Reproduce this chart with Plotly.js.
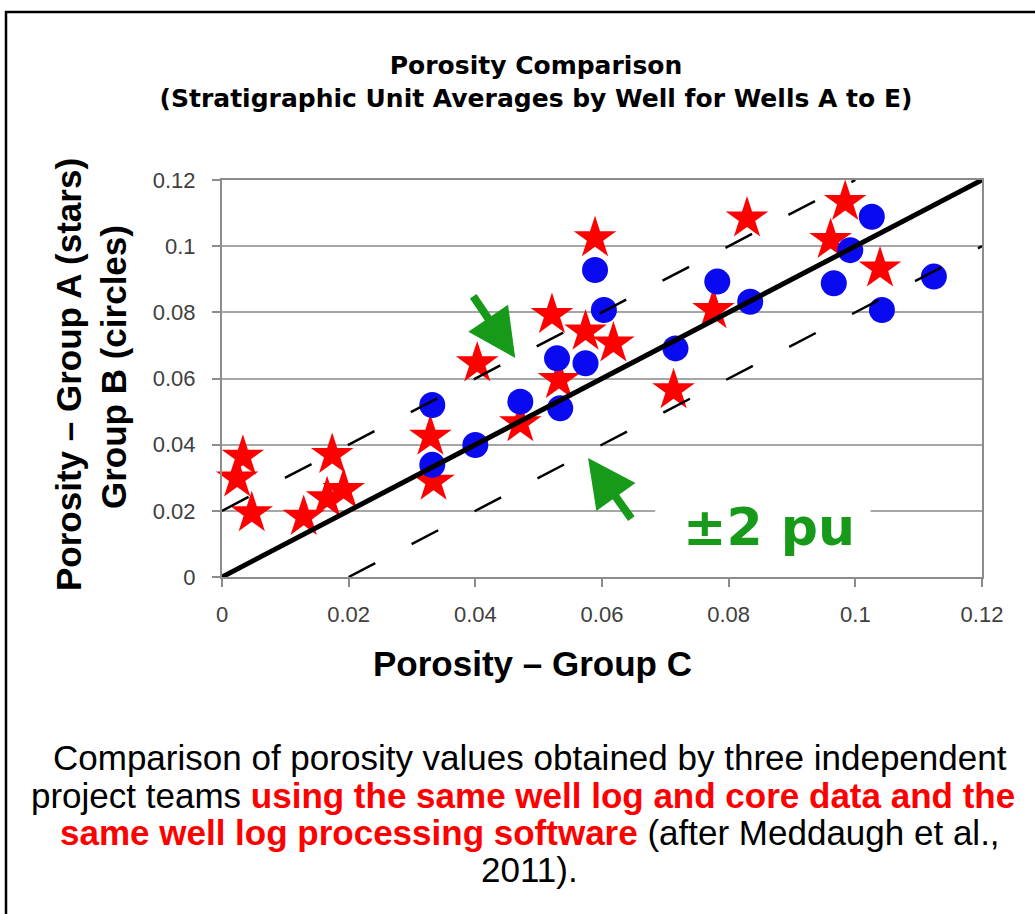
<!DOCTYPE html>
<html>
<head>
<meta charset="utf-8">
<script src="https://cdn.plot.ly/plotly-3.0.1.min.js"></script>
<style>
html,body{margin:0;padding:0;background:#fff;}
#chart{width:1035px;height:914px;}
</style>
</head>
<body>
<div id="chart"></div>
<script>
// ---- Data ----
const groupC_stars = [0.0033, 0.0024, 0.0047, 0.0129, 0.0174, 0.0166, 0.0192, 0.0329, 0.0334, 0.0403, 0.0589, 0.0521, 0.0574, 0.0618, 0.0532, 0.0471, 0.0713, 0.0776, 0.0829, 0.0984, 0.0961, 0.1039];
const groupA_stars = [0.0364, 0.0298, 0.0193, 0.0182, 0.0369, 0.0238, 0.0263, 0.0424, 0.0288, 0.0646, 0.1024, 0.0792, 0.0742, 0.0706, 0.0596, 0.0465, 0.0565, 0.0807, 0.1084, 0.1134, 0.1019, 0.0933];

const groupC_circles = [0.0332, 0.0332, 0.0400, 0.0589, 0.0603, 0.0529, 0.0574, 0.0471, 0.0534, 0.0716, 0.0782, 0.0834, 0.1026, 0.0992, 0.0966, 0.1042, 0.1124];
const groupB_circles = [0.0520, 0.0339, 0.0399, 0.0928, 0.0807, 0.0661, 0.0646, 0.0530, 0.0510, 0.0691, 0.0893, 0.0832, 0.1089, 0.0988, 0.0888, 0.0807, 0.0908];

const oneToOneX = [0, 0.12];
const oneToOneY = [0, 0.12];
const upperBandX = [0, 0.10];
const upperBandY = [0.02, 0.12];
const lowerBandX = [0.02, 0.12];
const lowerBandY = [0, 0.10];

const tickVals = [0, 0.02, 0.04, 0.06, 0.08, 0.10, 0.12];
const tickText = ['0', '0.02', '0.04', '0.06', '0.08', '0.1', '0.12'];

// ---- Layout geometry helpers (pixel -> paper) ----
const L = 222, R = 53, T = 180, B = 337, W = 1035, H = 914;
const PW = W - L - R, PH = H - T - B;
const px = v => (v - L) / PW;
const py = v => (H - B - v) / PH;

const GREEN = '#17991a';
const SANS = 'Liberation Sans, Arial, sans-serif';
const WIDE = 'DejaVu Sans, sans-serif';

const traces = [
  {
    type: 'scatter', mode: 'markers', name: 'Group A (stars)',
    x: groupC_stars, y: groupA_stars, cliponaxis: false,
    marker: {symbol: 'star', size: 32, color: '#ff0000', line: {width: 0}}
  },
  {
    type: 'scatter', mode: 'markers', name: 'Group B (circles)',
    x: groupC_circles, y: groupB_circles, cliponaxis: false,
    marker: {symbol: 'circle', size: 26, color: '#0a0af0', line: {width: 0}}
  },
  {
    type: 'scatter', mode: 'lines', name: '+2 pu',
    x: upperBandX, y: upperBandY,
    line: {color: '#000', width: 2.5, dash: '30px,41px'}
  },
  {
    type: 'scatter', mode: 'lines', name: '-2 pu',
    x: lowerBandX, y: lowerBandY,
    line: {color: '#000', width: 2.5, dash: '30px,41px'}
  },
  {
    type: 'scatter', mode: 'lines', name: '1:1',
    x: oneToOneX, y: oneToOneY,
    line: {color: '#000', width: 5}
  }
];

const axisCommon = {
  range: [0, 0.12], tickmode: 'array', tickvals: tickVals, ticktext: tickText,
  showline: true, linecolor: '#8c8c8c', linewidth: 2, mirror: true,
  ticks: 'outside', ticklen: 8, tickwidth: 2, tickcolor: '#8c8c8c',
  zeroline: false, fixedrange: true,
  tickfont: {family: SANS, size: 22, color: '#404040'}
};

const layout = {
  width: W, height: H,
  margin: {l: L, r: R, t: T, b: B, pad: 0},
  paper_bgcolor: '#fff', plot_bgcolor: '#fff',
  showlegend: false,
  title: {
    text: 'Porosity Comparison<br>(Stratigraphic Unit Averages by Well for Wells A to E)',
    x: 536 / W, xanchor: 'center', xref: 'container',
    y: 1 - 74 / H, yanchor: 'middle', yref: 'container',
    font: {family: WIDE, size: 25, color: '#000', weight: 'bold'}
  },
  xaxis: Object.assign({}, axisCommon, {showgrid: false, ticklabelstandoff: 9}),
  yaxis: Object.assign({}, axisCommon, {showgrid: true, gridcolor: '#a6a6a6', gridwidth: 2, ticklabelstandoff: 12}),
  shapes: [
    {type: 'rect', xref: 'x', yref: 'y', x0: 0.0684, x1: 0.1024, y0: 0.016, y1: 0.024,
     fillcolor: '#fff', line: {width: 0}, layer: 'between'},
    {type: 'rect', xref: 'paper', yref: 'paper', x0: px(6), x1: px(1045), y0: py(925), y1: py(12),
     fillcolor: 'rgba(0,0,0,0)', line: {color: '#000', width: 2.5}, layer: 'above'}
  ],
  annotations: [
    // axis titles
    {xref: 'paper', yref: 'paper', x: px(68), y: py(375), xanchor: 'center', yanchor: 'middle',
     text: 'Porosity – Group A (stars)', textangle: -90, showarrow: false,
     font: {family: SANS, size: 35, color: '#000', weight: 'bold'}},
    {xref: 'paper', yref: 'paper', x: px(113), y: py(367), xanchor: 'center', yanchor: 'middle',
     text: 'Group B (circles)', textangle: -90, showarrow: false,
     font: {family: SANS, size: 35, color: '#000', weight: 'bold'}},
    {xref: 'paper', yref: 'paper', x: px(532), y: py(663), xanchor: 'center', yanchor: 'middle',
     text: 'Porosity – Group C', showarrow: false,
     font: {family: SANS, size: 35, color: '#000', weight: 'bold'}},
    // ±2 pu label
    {xref: 'paper', yref: 'paper', x: px(769), y: py(527), xanchor: 'center', yanchor: 'middle',
     text: '±2 pu', showarrow: false,
     font: {family: WIDE, size: 52, color: GREEN, weight: 'bold'}},
    // green arrows
    {xref: 'x', yref: 'y', axref: 'x', ayref: 'y', x: 0.0463, y: 0.0662, ax: 0.0395, ay: 0.0853,
     text: '', showarrow: true, arrowhead: 2, arrowsize: 1.2, arrowwidth: 8, arrowcolor: GREEN, standoff: 0},
    {xref: 'x', yref: 'y', axref: 'x', ayref: 'y', x: 0.0578, y: 0.0360, ax: 0.0648, ay: 0.0172,
     text: '', showarrow: true, arrowhead: 2, arrowsize: 1.2, arrowwidth: 8, arrowcolor: GREEN, standoff: 0},
    // caption
    {xref: 'paper', yref: 'paper', x: px(530), y: py(757), xanchor: 'center', yanchor: 'middle', showarrow: false,
     text: 'Comparison of porosity values obtained by three independent',
     font: {family: SANS, size: 35, color: '#000'}},
    {xref: 'paper', yref: 'paper', x: px(523), y: py(795), xanchor: 'center', yanchor: 'middle', showarrow: false,
     text: 'project teams <b><span style="color:#ff0000">using the same well log and core data and the</span></b>',
     font: {family: SANS, size: 35, color: '#000'}},
    {xref: 'paper', yref: 'paper', x: px(530), y: py(832), xanchor: 'center', yanchor: 'middle', showarrow: false,
     text: '<b><span style="color:#ff0000">same well log processing software</span></b> (after Meddaugh et al.,',
     font: {family: SANS, size: 35, color: '#000'}},
    {xref: 'paper', yref: 'paper', x: px(529), y: py(869), xanchor: 'center', yanchor: 'middle', showarrow: false,
     text: '2011).',
     font: {family: SANS, size: 35, color: '#000'}}
  ]
};

Plotly.newPlot('chart', traces, layout, {staticPlot: true, displayModeBar: false});
</script>
</body>
</html>
